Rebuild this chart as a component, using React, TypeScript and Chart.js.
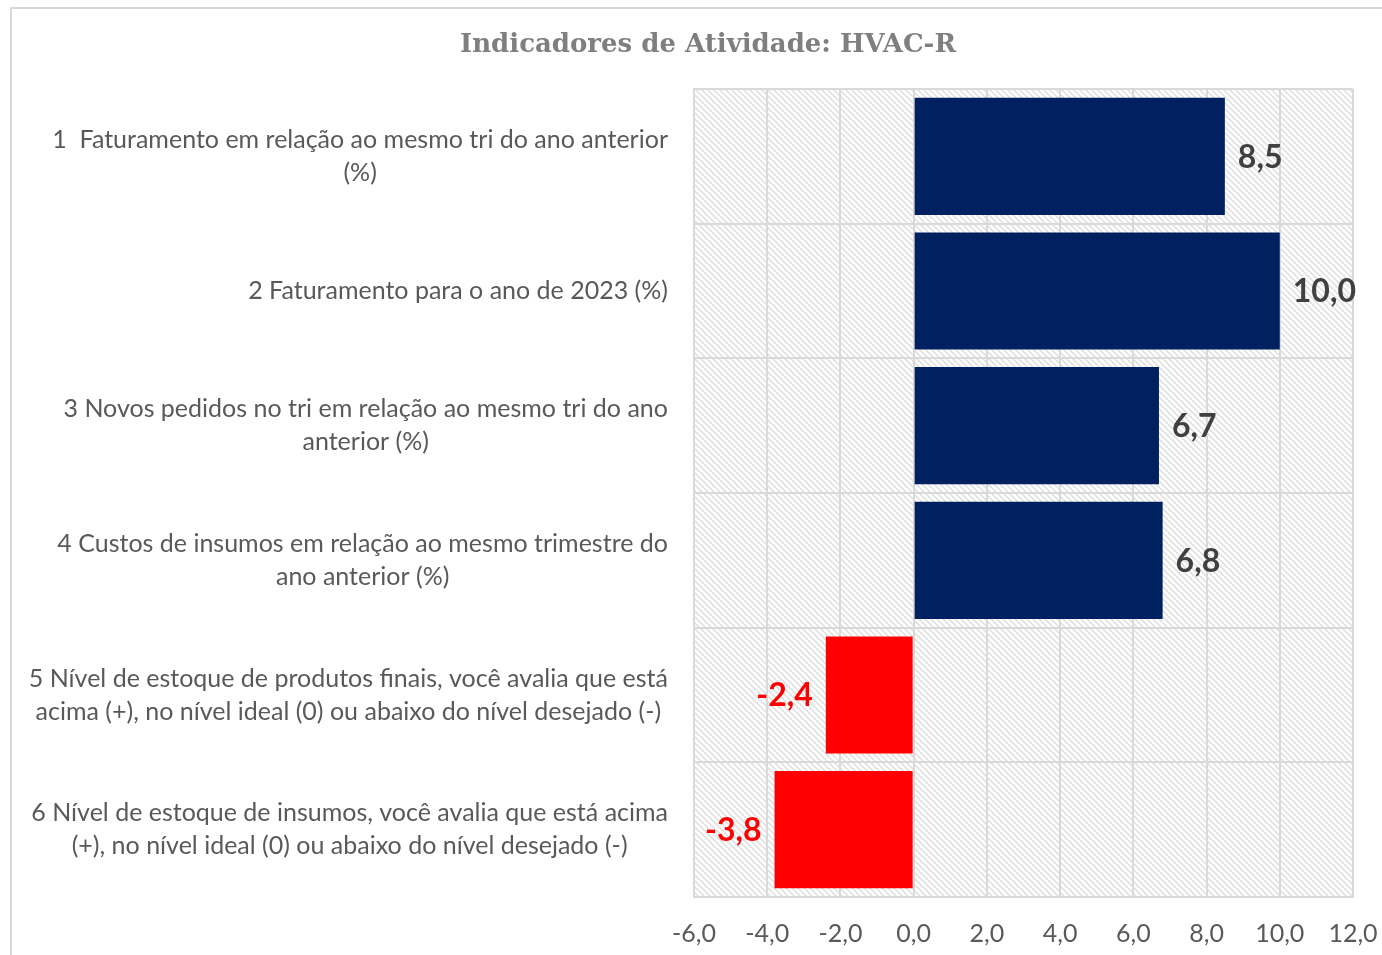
import React, { useEffect, useRef } from "react";
import { Chart, registerables } from "chart.js";

Chart.register(...registerables);

const TITLE = "Indicadores de Atividade: HVAC-R";
const CATEGORY_LINES: string[][] = [
  ["1  Faturamento em relação ao mesmo tri do ano anterior", "(%)"],
  ["2 Faturamento para o ano de 2023 (%)"],
  ["3 Novos pedidos no tri em relação ao mesmo tri do ano", "anterior (%)"],
  ["4 Custos de insumos em relação ao mesmo trimestre do", "ano anterior (%)"],
  ["5 Nível de estoque de produtos finais, você avalia que está", "acima (+), no nível ideal (0) ou abaixo do nível desejado (-)"],
  ["6 Nível de estoque de insumos, você avalia que está acima", "(+), no nível ideal (0) ou abaixo do nível desejado (-)"],
];
const VALUES: number[] = [8.5, 10.0, 6.7, 6.8, -2.4, -3.8];
const X_MIN = -6;
const X_MAX = 12;
const X_STEP = 2;

const POS_COLOR = "#002060";
const NEG_COLOR = "#FF0000";
const TEXT_COLOR = "#595959";
const LABEL_FONT = "Lato, 'Open Sans', sans-serif";

const fmt = (v: number) => v.toFixed(1).replace(".", ",");

function makeHatch(): CanvasPattern | string {
  const c = document.createElement("canvas");
  c.width = 6;
  c.height = 6;
  const g = c.getContext("2d");
  if (!g) return "#eee";
  g.fillStyle = "#ffffff";
  g.fillRect(0, 0, 6, 6);
  g.strokeStyle = "#dedede";
  g.lineWidth = 1.5;
  g.beginPath();
  g.moveTo(-3, -3);
  g.lineTo(9, 9);
  g.moveTo(-3, 3);
  g.lineTo(3, 9);
  g.moveTo(3, -3);
  g.lineTo(9, 3);
  g.stroke();
  const p = g.createPattern(c, "repeat");
  return p || "#eee";
}

export default function App() {
  const ref = useRef<HTMLCanvasElement>(null);

  useEffect(() => {
    if (!ref.current) return;
    const hatch = makeHatch();

    const decor = {
      id: "decor",
      beforeDraw(chart: any) {
        const { ctx, chartArea } = chart;
        ctx.save();
        ctx.fillStyle = "#ffffff";
        ctx.fillRect(0, 0, chart.width, chart.height);
        // frame
        ctx.strokeStyle = "#d9d9d9";
        ctx.lineWidth = 2;
        ctx.beginPath();
        ctx.moveTo(11, chart.height + 5);
        ctx.lineTo(11, 8);
        ctx.lineTo(chart.width + 5, 8);
        ctx.stroke();
        // hatch plot area
        ctx.fillStyle = hatch;
        ctx.fillRect(chartArea.left, chartArea.top, chartArea.right - chartArea.left, chartArea.bottom - chartArea.top);
        // title
        ctx.fillStyle = "#7f7f7f";
        ctx.font = "bold 26px 'DejaVu Serif', 'Liberation Serif', serif";
        ctx.textAlign = "center";
        ctx.textBaseline = "middle";
        ctx.fillText(TITLE, 708, 45);
        ctx.restore();
      },
      afterDraw(chart: any) {
        const { ctx } = chart;
        const y = chart.scales.y;
        const x = chart.scales.x;
        ctx.save();
        // category labels: block right-aligned, lines centered within the block
        ctx.font = `25px ${LABEL_FONT}`;
        ctx.fillStyle = TEXT_COLOR;
        ctx.textBaseline = "middle";
        ctx.textAlign = "center";
        const lineH = 33;
        const rightEdge = 668;
        CATEGORY_LINES.forEach((lines, i) => {
          const cy = y.getPixelForValue(i);
          const w = Math.max(...lines.map((l) => ctx.measureText(l).width));
          const cx = rightEdge - w / 2;
          const startY = cy - ((lines.length - 1) * lineH) / 2;
          lines.forEach((l, j) => ctx.fillText(l, cx, startY + j * lineH));
        });
        // value labels
        ctx.font = `bold 32px ${LABEL_FONT}`;
        VALUES.forEach((v, i) => {
          const cy = y.getPixelForValue(i);
          const px = x.getPixelForValue(v);
          if (v >= 0) {
            ctx.fillStyle = "#404040";
            ctx.textAlign = "left";
            ctx.fillText(fmt(v), px + 13, cy + 1);
          } else {
            ctx.fillStyle = NEG_COLOR;
            ctx.textAlign = "right";
            ctx.fillText(fmt(v), px - 13, cy + 1);
          }
        });
        ctx.restore();
      },
    };

    const chart = new Chart(ref.current, {
      type: "bar",
      data: {
        labels: CATEGORY_LINES.map((l) => l.join(" ")),
        datasets: [
          {
            data: VALUES,
            backgroundColor: VALUES.map((v) => (v >= 0 ? POS_COLOR : NEG_COLOR)),
            borderWidth: 0,
            categoryPercentage: 1,
            barPercentage: 0.87,
          },
        ],
      },
      options: {
        indexAxis: "y",
        animation: false,
        responsive: false,
        maintainAspectRatio: false,
        events: [],
        layout: { padding: { top: 89, right: 0, bottom: 0, left: 0 } },
        plugins: { legend: { display: false }, title: { display: false }, tooltip: { enabled: false } },
        scales: {
          x: {
            type: "linear",
            min: X_MIN,
            max: X_MAX,
            ticks: {
              stepSize: X_STEP,
              padding: 22,
              color: TEXT_COLOR,
              font: { family: LABEL_FONT, size: 25 },
              callback: (v: any) => fmt(Number(v)),
            },
            grid: { color: "#d9d9d9", lineWidth: 2, drawTicks: false },
            border: { color: "#d9d9d9", width: 2 },
            afterFit: (s: any) => {
              s.height = 58;
              s.paddingRight = 29;
              s.paddingLeft = 0;
            },
          },
          y: {
            type: "category",
            ticks: { display: false },
            grid: { color: "#d9d9d9", lineWidth: 2, offset: true, drawTicks: false },
            border: { color: "#d9d9d9", width: 2 },
            afterFit: (s: any) => {
              s.width = 694;
            },
          },
        },
      },
      plugins: [decor],
    });
    return () => chart.destroy();
  }, []);

  return (
    <div style={{ position: "absolute", left: 0, top: 0, width: 1382, height: 955, overflow: "hidden" }}>
      <canvas ref={ref} width={1382} height={955} style={{ display: "block", width: 1382, height: 955 }} />
    </div>
  );
}
